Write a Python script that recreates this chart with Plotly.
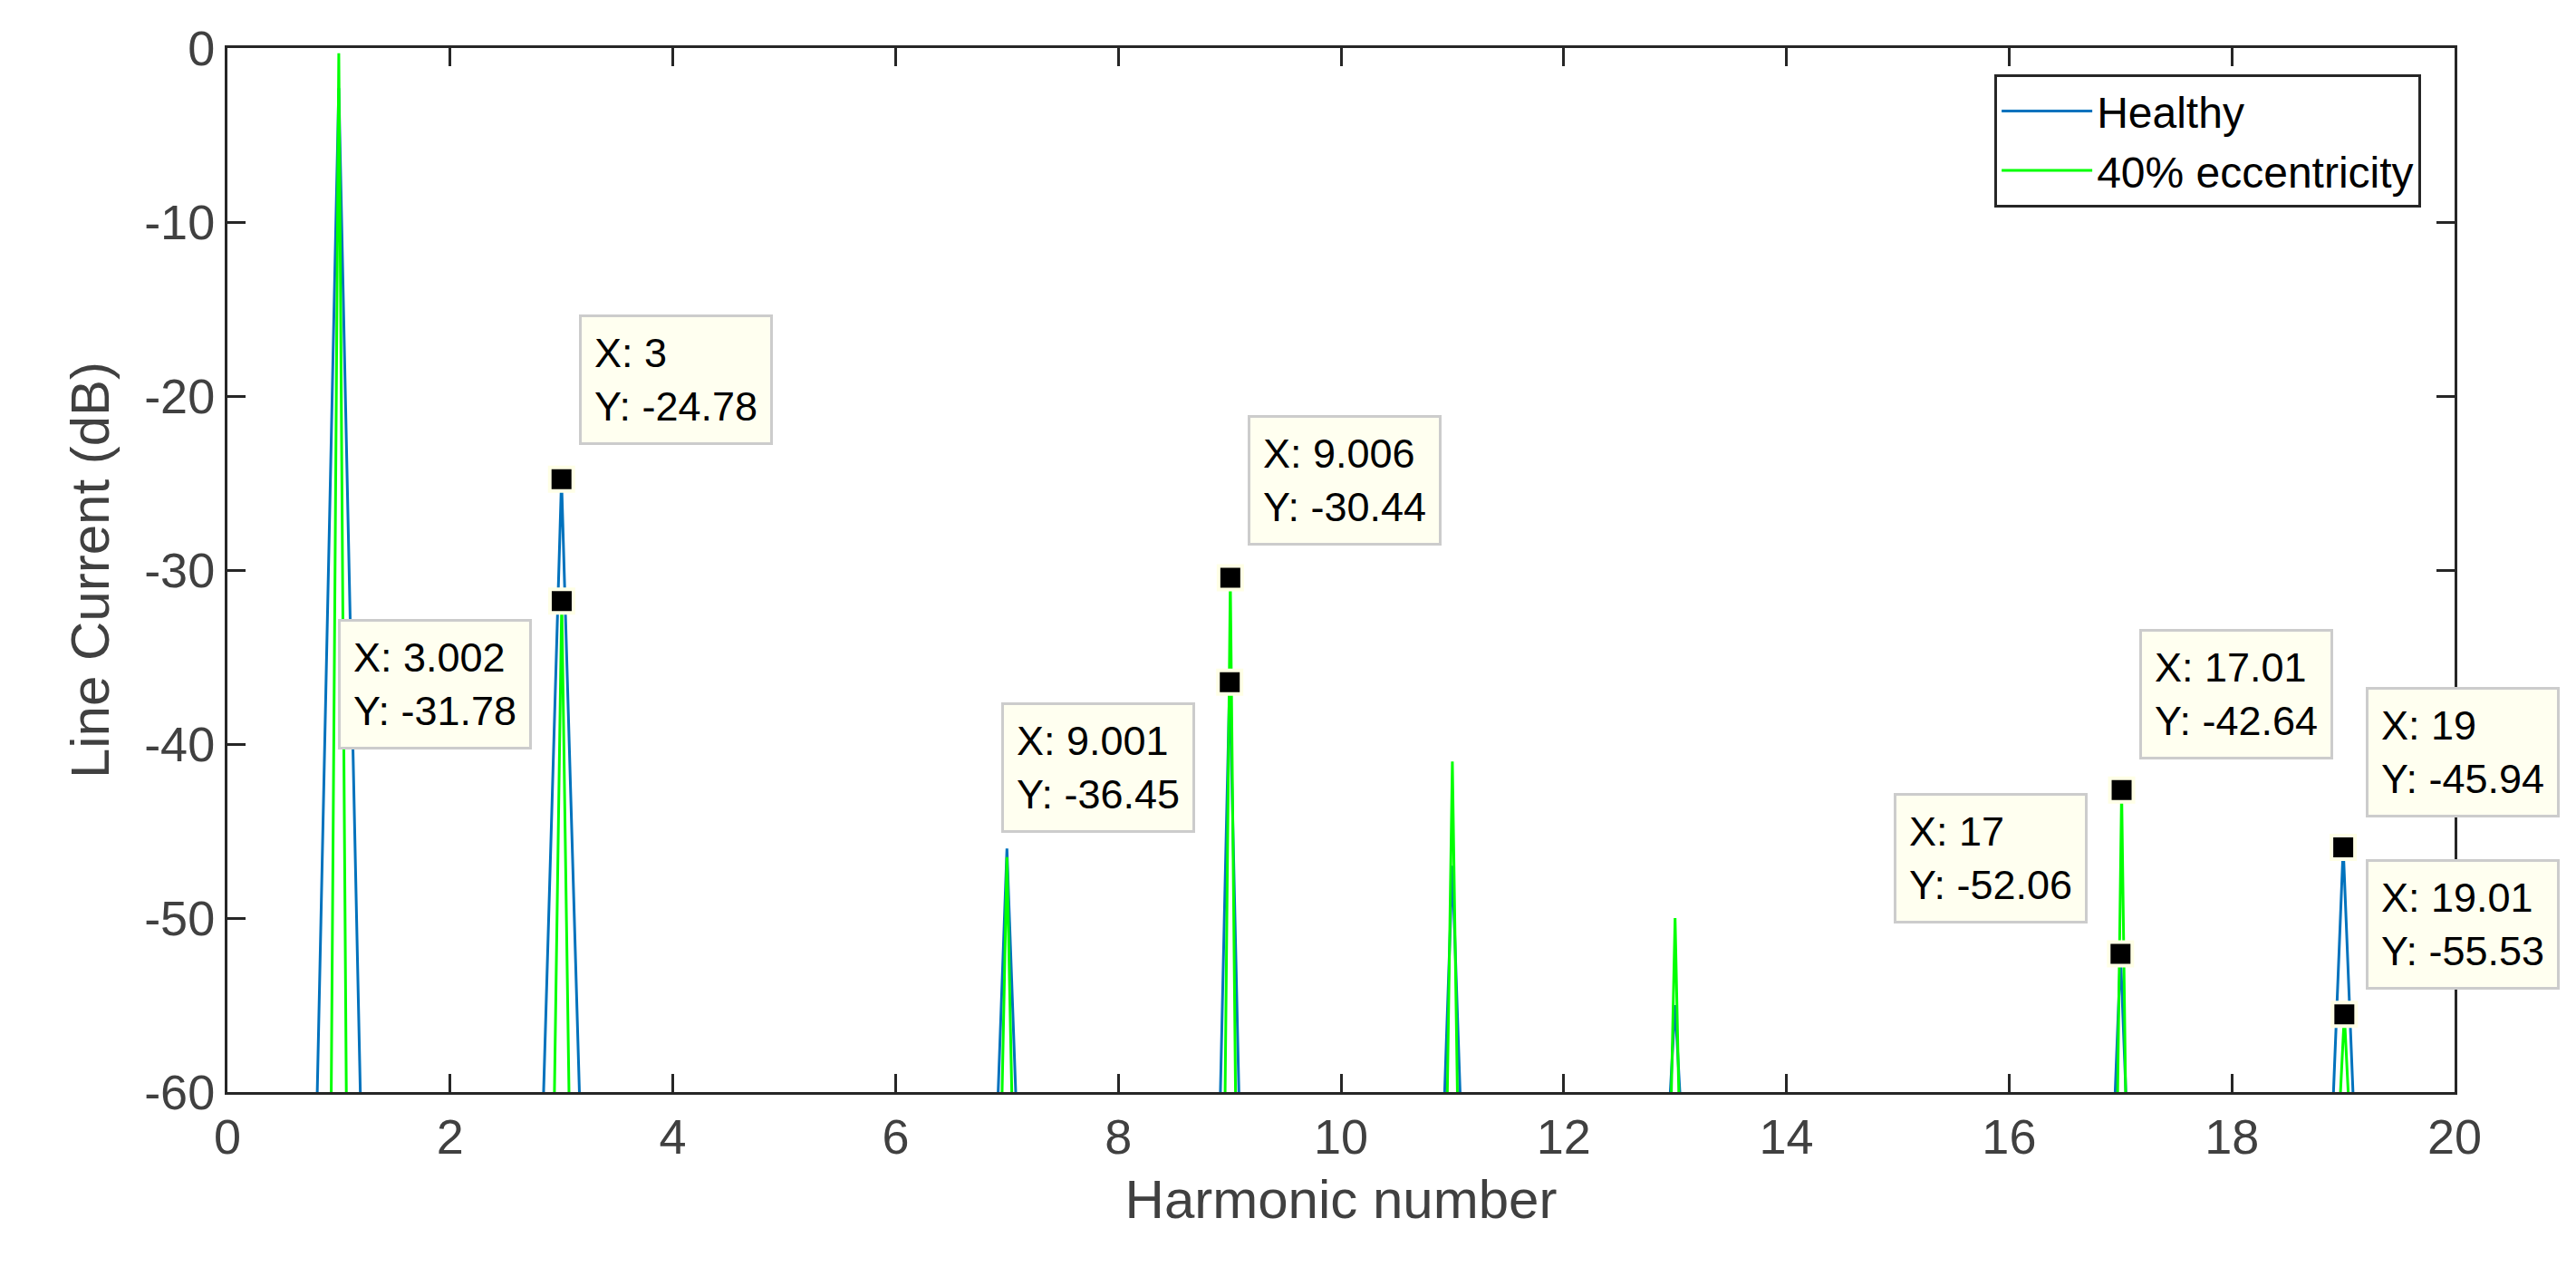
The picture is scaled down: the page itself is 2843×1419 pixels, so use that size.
import plotly.graph_objects as go

harmonics = [1, 3, 7, 9, 11, 13, 17, 19]
healthy_peaks = [-2.3, -24.78, -46.0, -36.45, -47.0, -55.0, -52.06, -45.94]
ecc_x = [1, 3.002, 7, 9.006, 11, 13, 17.01, 19.01]
ecc_peaks = [-0.3, -31.78, -46.5, -30.44, -41.0, -50.0, -42.64, -55.53]
healthy_halfwidth = [0.2, 0.17, 0.09, 0.09, 0.08, 0.06, 0.06, 0.1]
ecc_halfwidth = [0.07, 0.07, 0.05, 0.05, 0.05, 0.04, 0.04, 0.05]
floor_db = -62

x_ticks = [0, 2, 4, 6, 8, 10, 12, 14, 16, 18, 20]
y_ticks = [0, -10, -20, -30, -40, -50, -60]
y_ticklabels = ["0", "-10", "-20", "-30", "-40", "-50", "-60"]

tips_x = [3, 3.002, 9.006, 9.001, 17.01, 17, 19, 19.01]
tips_y = [-24.78, -31.78, -30.44, -36.45, -42.64, -52.06, -45.94, -55.53]
tip_text = ["X: 3<br>Y: -24.78", "X: 3.002<br>Y: -31.78", "X: 9.006<br>Y: -30.44",
            "X: 9.001<br>Y: -36.45", "X: 17.01<br>Y: -42.64", "X: 17<br>Y: -52.06",
            "X: 19<br>Y: -45.94", "X: 19.01<br>Y: -55.53"]
box_x = [3.16, 0.99, 9.16, 6.95, 17.17, 14.96, 19.2, 19.2]
box_y = [-15.3, -32.8, -21.1, -37.6, -33.4, -42.8, -36.7, -46.6]


def spikes(xs, ps, hws):
    X, Y = [0], [floor_db]
    for c, p, w in zip(xs, ps, hws):
        X += [c - w, c, c + w]
        Y += [floor_db, p, floor_db]
    X.append(20); Y.append(floor_db)
    return X, Y

FONT = "Arial, Liberation Sans"
fig = go.Figure()
hx, hy = spikes(harmonics, healthy_peaks, healthy_halfwidth)
ex, ey = spikes(ecc_x, ecc_peaks, ecc_halfwidth)
fig.add_trace(go.Scatter(x=hx, y=hy, mode="lines", name="Healthy",
                         line=dict(color="#0072BD", width=3)))
fig.add_trace(go.Scatter(x=ex, y=ey, mode="lines", name="40% eccentricity",
                         line=dict(color="#00FF00", width=3)))
fig.add_trace(go.Scatter(x=tips_x, y=tips_y, mode="markers", showlegend=False,
                         marker=dict(symbol="square", size=26, color="black",
                                     line=dict(color="#FFFFE6", width=4)),
                         cliponaxis=False))

for bx, by, t in zip(box_x, box_y, tip_text):
    fig.add_annotation(x=bx, y=by, xref="x", yref="y", text=t, showarrow=False,
                       xanchor="left", yanchor="top", align="left",
                       font=dict(family=FONT, size=45, color="black"),
                       bgcolor="#FFFFF0", bordercolor="#CCCCCC", borderwidth=3, borderpad=14)

axis_common = dict(showline=True, linecolor="#262626", linewidth=3, mirror="ticks",
                   ticks="inside", ticklen=20, tickwidth=3, tickcolor="#262626",
                   showgrid=False, zeroline=False,
                   tickfont=dict(family=FONT, size=54, color="#404040"))
fig.update_xaxes(range=[0, 20], tickvals=x_ticks, title=dict(text="Harmonic number",
                 font=dict(family=FONT, size=60, color="#404040"), standoff=20),
                 **axis_common)
fig.update_yaxes(range=[-60, 0], tickvals=y_ticks, ticktext=y_ticklabels,
                 title=dict(text="Line Current (dB)",
                 font=dict(family=FONT, size=60, color="#404040"), standoff=20),
                 **axis_common)
fig.update_layout(width=2843, height=1419, plot_bgcolor="white", paper_bgcolor="white",
                  margin=dict(l=243, r=142, t=45, b=222),
                  legend=dict(x=0.985, y=0.975, xanchor="right", yanchor="top",
                              bgcolor="white", bordercolor="#262626", borderwidth=3,
                              itemwidth=100,
                              font=dict(family=FONT, size=48, color="black")))
fig.write_html("out.html")
